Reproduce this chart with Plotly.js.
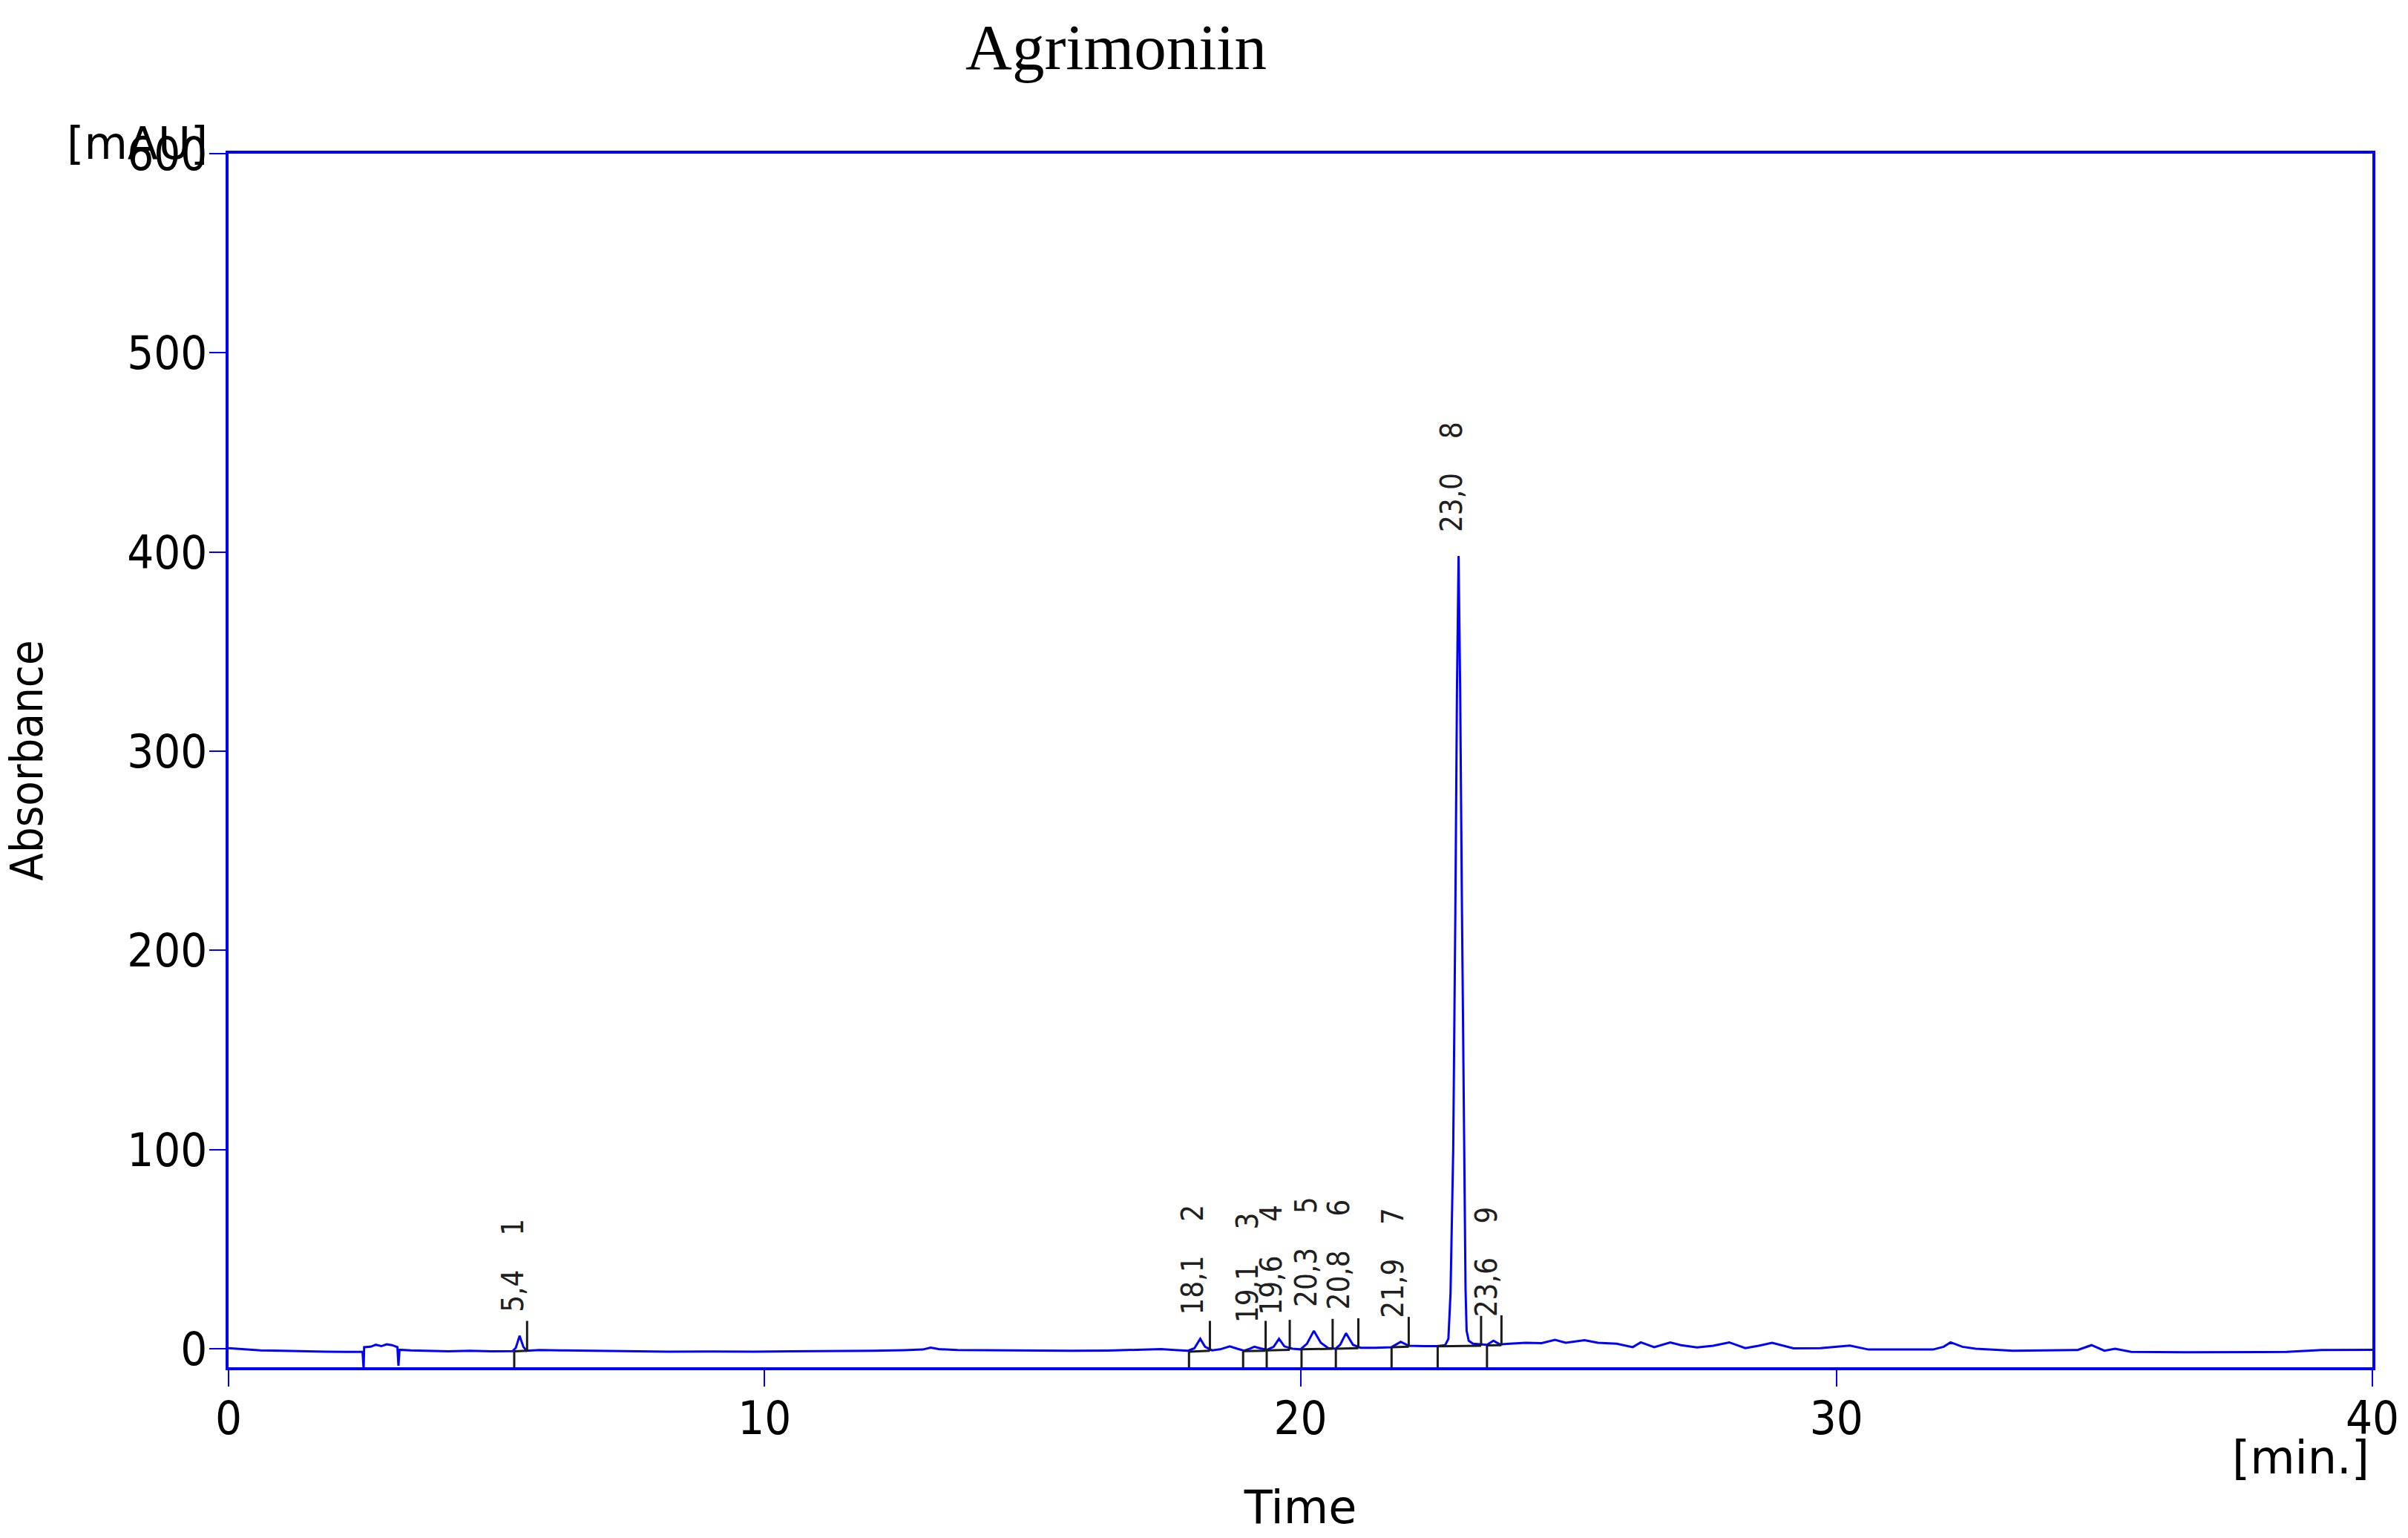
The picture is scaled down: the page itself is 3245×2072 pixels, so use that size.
<!DOCTYPE html>
<html>
<head>
<meta charset="utf-8">
<script src="https://cdn.plot.ly/plotly-3.0.1.min.js"></script>
<style>html,body{margin:0;padding:0;background:#fff;}#chart{width:3245px;height:2072px;}</style>
</head>
<body>
<div id="chart"></div>
<script>
// Chromatogram trace (time in min, absorbance in mAU)
const time = [0.00,0.30,0.60,1.00,1.40,1.80,2.20,2.50,2.52,2.53,2.65,2.75,2.85,2.95,3.05,3.15,3.17,3.19,3.40,3.70,4.10,4.50,4.90,5.30,5.36,5.43,5.50,5.56,5.80,6.20,6.80,7.50,8.20,9.00,9.80,10.50,11.30,12.00,12.60,12.95,13.10,13.25,13.60,14.30,15.00,15.70,16.40,17.00,17.40,17.60,17.90,18.02,18.13,18.22,18.35,18.50,18.68,18.82,18.95,19.05,19.14,19.25,19.38,19.50,19.60,19.70,19.85,20.00,20.12,20.25,20.38,20.52,20.65,20.74,20.85,20.98,21.12,21.40,21.70,21.87,22.02,22.30,22.55,22.70,22.76,22.80,22.85,22.89,22.92,22.95,22.98,23.01,23.04,23.06,23.08,23.10,23.14,23.22,23.35,23.48,23.60,23.72,23.90,24.20,24.50,24.75,24.95,25.30,25.55,25.90,26.20,26.35,26.60,26.90,27.10,27.40,27.70,28.00,28.30,28.55,28.80,29.20,29.70,30.25,30.60,31.20,31.80,32.00,32.13,32.35,32.60,33.30,34.00,34.50,34.76,35.00,35.20,35.50,36.50,37.50,38.40,39.05,40.00];
const absorbance = [0.3,-0.3,-0.8,-1.0,-1.3,-1.5,-1.6,-1.5,-10,0.8,1.0,2.0,1.3,2.2,1.8,0.8,-8.5,-0.5,-0.8,-1.0,-1.3,-1.0,-1.3,-1.2,0.5,6.5,1.0,-1.0,-0.6,-0.8,-1.0,-1.2,-1.5,-1.4,-1.5,-1.3,-1.2,-1.0,-0.7,-0.4,0.6,-0.2,-0.6,-0.8,-1.0,-1.0,-0.9,-0.6,-0.2,-0.5,-1.0,0.2,5.0,1.0,-0.8,-0.3,1.2,0.0,-1.0,0.0,1.0,0.2,-0.5,1.0,5.0,1.2,0.0,-0.3,2.5,9.0,3.0,0.3,0.0,2.0,7.8,2.0,0.5,0.5,0.8,3.5,1.5,1.3,1.3,1.8,5,28,100,220,330,398,330,230,140,90,30,9,4,2.5,2.2,2.0,4.0,2.2,2.5,3.0,2.8,4.5,3.0,4.3,3.0,2.5,0.8,3.2,0.8,3.2,1.8,0.7,1.5,3.2,0.3,1.5,3.0,0.2,0.3,1.6,-0.4,-0.4,-0.4,1.0,3.2,1.0,0.0,-1.0,-0.8,-0.6,1.8,-1.0,0.0,-1.6,-1.8,-1.8,-1.6,-0.6,-0.5];

// Integrated peaks
const peakNumbers = ["1","2","3","4","5","6","7","8","9"];
const peakLabels  = ["5,4","18,1","19,1","19,6","20,3","20,8","21,9","23,0","23,6"];
const peakTime    = [5.43,18.13,19.14,19.60,20.25,20.85,21.87,22.95,23.60];
const peakHeight  = [6.5,5.0,1.0,5.0,9.0,7.8,3.5,398,4.0];
const peakStart   = [5.33,17.92,18.93,19.37,20.02,20.66,21.70,22.56,23.48];
const peakEnd     = [5.57,18.31,19.35,19.80,20.60,21.08,22.02,23.37,23.75];
const baseStart   = [-1.3,-1.5,-1.2,-0.8,-0.3,0.0,0.8,1.2,1.7];
const baseEnd     = [-1.0,-1.0,-1.0,-0.5,0.0,0.3,1.0,1.5,1.8];

// Axis ticks
const xTicks = [0,10,20,30,40];
const yTicks = [0,100,200,300,400,500,600];

const Y_MIN = -9.3, Y_MAX = 600;
const MARK_H = 15;
const BLUE = '#0000ff';
const TICKFONT = 'DejaVu Sans Condensed, DejaVu Sans, sans-serif';
const GAP = '\u00a0\u00a0\u00a0\u00a0';

// integration marker geometry from the peak tables
const mx = [], my = [];
for (let i = 0; i < peakStart.length; i++) {
  mx.push(peakStart[i], peakStart[i], null); my.push(Y_MIN, baseStart[i], null);
  mx.push(peakStart[i], peakEnd[i], null);   my.push(baseStart[i], baseEnd[i], null);
  mx.push(peakEnd[i], peakEnd[i], null);     my.push(baseEnd[i], baseEnd[i] + MARK_H, null);
}

const traces = [
  {x: time, y: absorbance, type: 'scatter', mode: 'lines',
   line: {color: BLUE, width: 3}, hoverinfo: 'skip', showlegend: false},
  {x: mx, y: my, type: 'scatter', mode: 'lines',
   line: {color: '#1a1a1a', width: 3}, hoverinfo: 'skip', showlegend: false, connectgaps: false}
];

const annotations = [];
for (let i = 0; i < peakLabels.length; i++) {
  annotations.push({x: peakTime[i], y: peakHeight[i], xref: 'x', yref: 'y',
    text: peakLabels[i] + GAP + peakNumbers[i], showarrow: false, textangle: -90,
    xanchor: 'center', yanchor: 'bottom', xshift: -10, yshift: 30,
    font: {family: TICKFONT, size: 40, color: '#202020'}});
}
annotations.push({x: 0, y: Y_MAX, xref: 'paper', yref: 'y', text: '[mAU]', showarrow: false,
  xanchor: 'right', yanchor: 'middle', xshift: -26, yshift: 14,
  font: {family: 'DejaVu Sans, sans-serif', size: 60, color: '#000'}});
annotations.push({x: 1, y: -0.0746, xref: 'paper', yref: 'paper', text: '[min.]', showarrow: false,
  xanchor: 'right', yanchor: 'middle', xshift: -2,
  font: {family: 'DejaVu Sans, sans-serif', size: 62, color: '#000'}});

const axisCommon = {
  showline: true, linecolor: BLUE, linewidth: 4, mirror: true,
  ticks: 'outside', ticklen: 22, tickwidth: 2, tickcolor: BLUE,
  showgrid: false, zeroline: false,
  tickfont: {family: TICKFONT, size: 63, color: '#000'}
};

const layout = {
  width: 3245, height: 2072,
  paper_bgcolor: '#fff', plot_bgcolor: '#fff',
  margin: {l: 308, r: 48, t: 207, b: 230},
  title: {text: 'Agrimoniin', x: 0.4635, xref: 'container', xanchor: 'center',
    y: 0.970, yref: 'container', yanchor: 'middle',
    font: {family: 'Liberation Serif, Times New Roman, serif', size: 87, color: '#000'}},
  xaxis: Object.assign({}, axisCommon, {range: [0, 40], tickvals: xTicks, ticktext: xTicks.map(String),
    ticklabelstandoff: -12,
    title: {text: 'Time', standoff: 64, font: {family: 'DejaVu Sans, sans-serif', size: 62, color: '#000'}}}),
  yaxis: Object.assign({}, axisCommon, {range: [Y_MIN, Y_MAX], tickvals: yTicks, ticktext: yTicks.map(String),
    ticklabelstandoff: -10,
    title: {text: 'Absorbance', standoff: 120, font: {family: 'Liberation Sans Narrow, Arial Narrow, DejaVu Sans Condensed, sans-serif', size: 61, color: '#000'}}}),
  annotations: annotations,
  showlegend: false
};

Plotly.newPlot('chart', traces, layout, {displayModeBar: false, staticPlot: true});
</script>
</body>
</html>
